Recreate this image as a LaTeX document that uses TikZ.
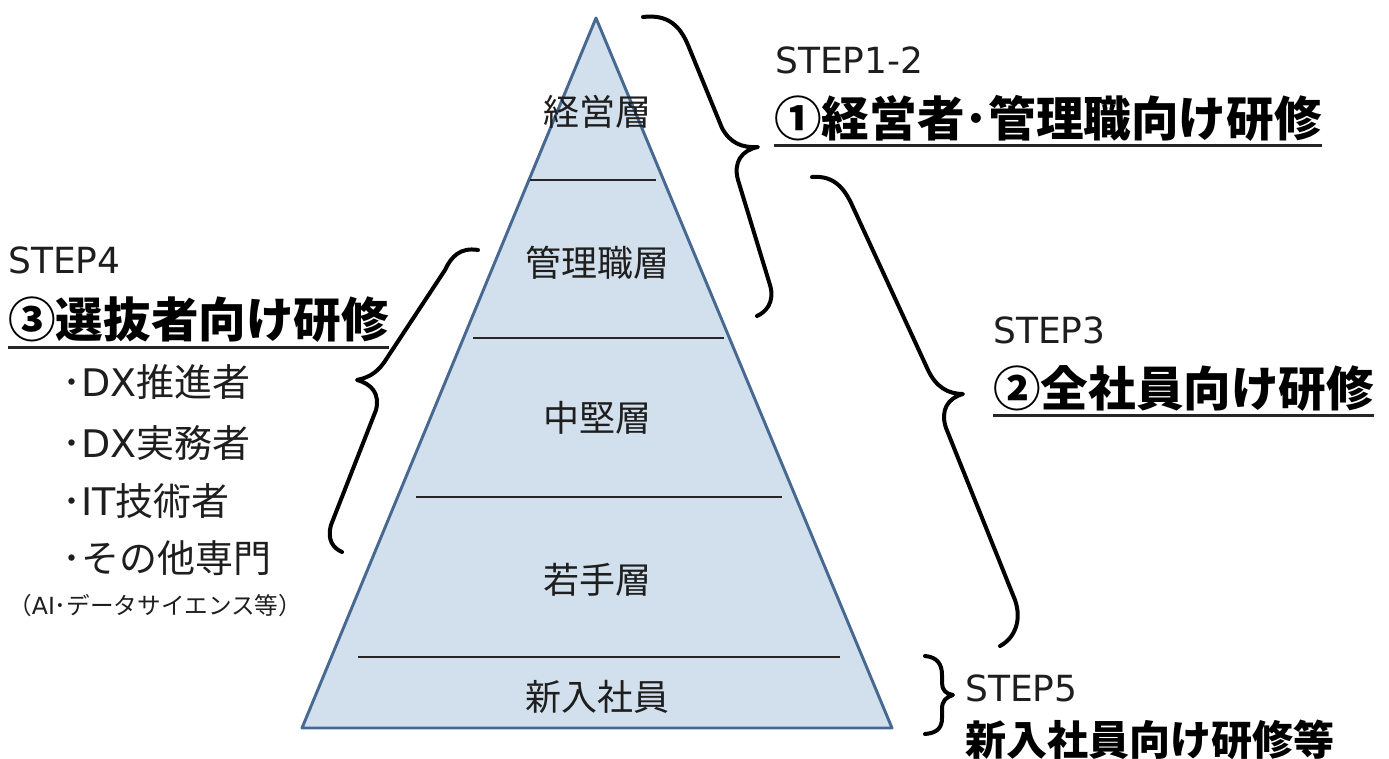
\documentclass[tikz,border=0pt]{standalone}
\usepackage{fontspec}
\setmainfont{Noto Sans CJK JP}
\newfontfamily\latinfont{DejaVu Sans}
\usetikzlibrary{calc}
\definecolor{pyrfill}{HTML}{D2DFEC}
\definecolor{pyrline}{HTML}{476890}
\definecolor{txt}{HTML}{1E1E1E}
\newcommand{\lt}[1]{{\latinfont #1}}
\tikzset{
  layerlabel/.style={inner sep=0pt, text=txt, font=\fontsize{27}{30}\selectfont},
  steplabel/.style={inner sep=0pt, anchor=west, text=txt, font=\latinfont\fontsize{27}{30}\selectfont},
  header/.style={inner sep=0pt, anchor=west, text=black, font=\fontsize{35.7}{38}\selectfont\bfseries},
  listitem/.style={inner sep=0pt, anchor=west, text=txt, font=\fontsize{28.5}{31}\selectfont},
  noteitem/.style={inner sep=0pt, anchor=west, text=txt, font=\fontsize{17.7}{20}\selectfont},
  bracestroke/.style={line width=3pt, black, line cap=round, line join=round},
  sepline/.style={line width=0.9pt, black!85},
  uline/.style={line width=2.3pt, black!85},
}
\begin{document}
\begin{tikzpicture}[x=0.75pt,y=-0.75pt]
\useasboundingbox (0,0) rectangle (1389,758);
% pyramid
\coordinate (apex) at (596,18);
\coordinate (bl) at (302,728);
\coordinate (br) at (892,728);
\draw[fill=pyrfill, draw=pyrline, line width=2.2pt, line join=round] (apex) -- (br) -- (bl) -- cycle;
% separators
\coordinate (s1l) at (530,180); \coordinate (s1r) at (656,180);
\coordinate (s2l) at (473,338); \coordinate (s2r) at (724,338);
\coordinate (s3l) at (416,497); \coordinate (s3r) at (782,497);
\coordinate (s4l) at (358,657); \coordinate (s4r) at (840,657);
\draw[sepline] (s1l) -- (s1r);
\draw[sepline] (s2l) -- (s2r);
\draw[sepline] (s3l) -- (s3r);
\draw[sepline] (s4l) -- (s4r);
% layer labels
\node[layerlabel] (l1) at (597,112) {経営層};
\node[layerlabel] (l2) at (597,263) {管理職層};
\node[layerlabel] (l3) at (597,418) {中堅層};
\node[layerlabel] (l4) at (597,580) {若手層};
\node[layerlabel] (l5) at (597,697) {新入社員};
% right top
\node[steplabel] (st12) at (775,60) {STEP1-2};
\node[header] (h1) at (774,118) {①経営者･管理職向け研修};
\draw[uline] ($(h1.south west)+(0,4)$) -- ($(h1.south east)+(0,4)$);
% right middle
\node[steplabel] (st3) at (993,330) {STEP3};
\node[header] (h2) at (993,388) {②全社員向け研修};
\draw[uline] ($(h2.south west)+(0,4)$) -- ($(h2.south east)+(0,4)$);
% left
\node[steplabel] (st4) at (8,260) {STEP4};
\node[header] (h3) at (8,320) {③選抜者向け研修};
\draw[uline] ($(h3.south west)+(0,4)$) -- ($(h3.south east)+(0,4)$);
\node[listitem] (i1) at (62,382) {･\lt{DX}推進者};
\node[listitem] (i2) at (62,443) {･\lt{DX}実務者};
\node[listitem] (i3) at (62,501) {･\lt{IT}技術者};
\node[listitem] (i4) at (62,558) {･その他専門};
\node[noteitem] (i5) at (8,606) {（\lt{AI}･データサイエンス等）};
% bottom right
\node[steplabel] (st5) at (965,688) {STEP5};
\node[header, font=\fontsize{30.8}{33}\selectfont\bfseries] (h5) at (965,740) {新入社員向け研修等};
% braces
\draw[bracestroke] (643,17) .. controls (668,14) and (680,26) .. (688,45)
  -- (722,128) .. controls (730,143) and (742,148) .. (758,147)
  .. controls (742,150) and (733,162) .. (738,180)
  -- (770,285) .. controls (775,302) and (766,312) .. (757,316);
\draw[bracestroke] (812,177) .. controls (835,175) and (845,190) .. (852,205)
  -- (928,370) .. controls (936,387) and (948,394) .. (963,394)
  .. controls (948,398) and (940,410) .. (946,428)
  -- (1015,600) .. controls (1022,620) and (1015,638) .. (1000,646);
\draw[bracestroke] (478,250) .. controls (460,247) and (451,257) .. (445,270)
  -- (387,358) .. controls (379,371) and (371,377) .. (357,380)
  .. controls (372,384) and (380,394) .. (376,410)
  -- (331,525) .. controls (327,540) and (333,548) .. (342,552);
\draw[bracestroke] (925,656) .. controls (937,657) and (942,664) .. (942,675)
  -- (942,683) .. controls (942,690) and (946,694) .. (953,695)
  .. controls (946,697) and (942,701) .. (942,709)
  -- (942,718) .. controls (942,728) and (937,733) .. (925,734);
\end{tikzpicture}
\end{document}
